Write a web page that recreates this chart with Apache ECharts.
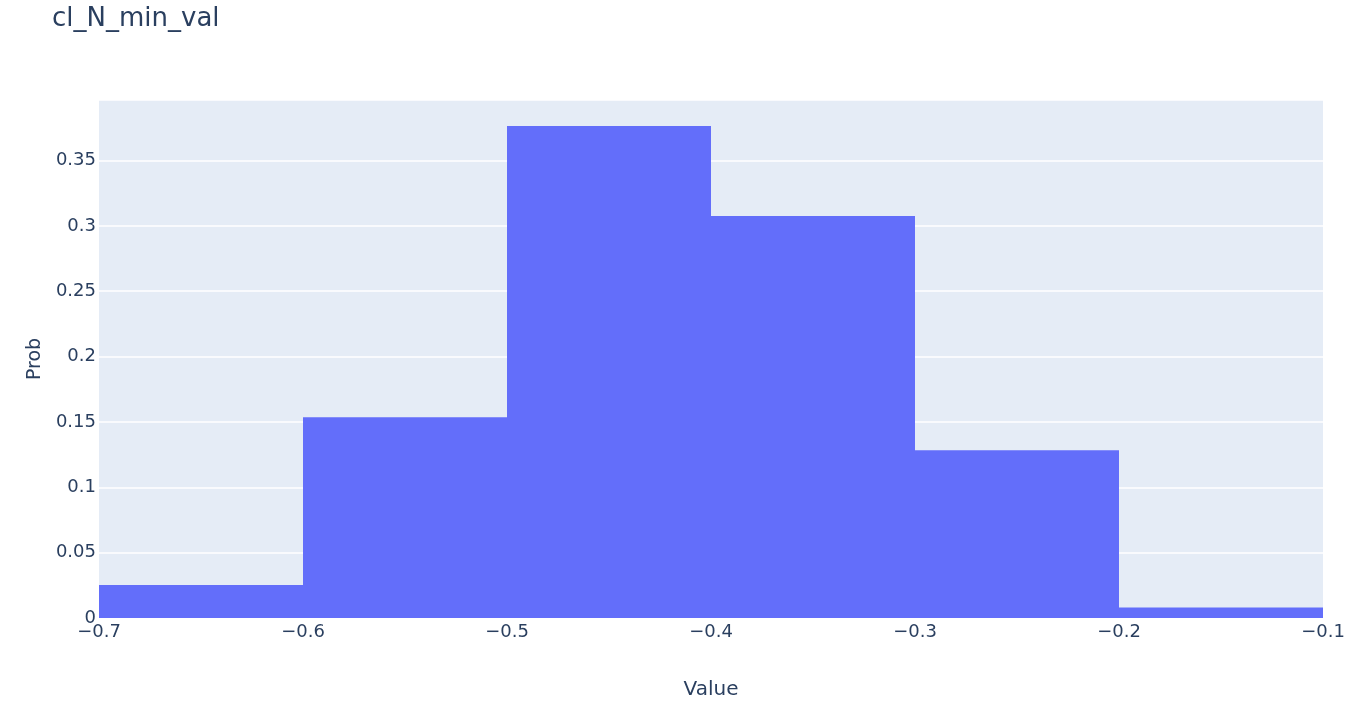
<!DOCTYPE html>
<html>
<head>
<meta charset="utf-8">
<script src="https://cdn.jsdelivr.net/npm/echarts@6/dist/echarts.min.js"></script>
<style>
html,body{margin:0;padding:0;background:#fff;}
#chart{width:1353px;height:701px;}
</style>
</head>
<body>
<div id="chart"></div>
<script>
const binStart = [-0.7, -0.6, -0.5, -0.4, -0.3, -0.2];
const binEnd   = [-0.6, -0.5, -0.4, -0.3, -0.2, -0.1];
const prob     = [0.0252, 0.1536, 0.3764, 0.3075, 0.1283, 0.0081];
const titleText = 'cl_N_min_val';
const xTitle = 'Value';
const yTitle = 'Prob';

const FONT = '"DejaVu Sans", verdana, arial, sans-serif';
const TXT = '#2a3f5f';
const fmtX = v => {
  const s = (Math.round(v * 10) / 10).toFixed(1);
  return s.replace('-', '\u2212');
};
const fmtY = v => {
  const r = Math.round(v * 1000) / 1000;
  if (Math.abs(Math.round(r / 0.05) * 0.05 - r) > 1e-6) return '';
  return String(parseFloat(r.toFixed(3)));
};

const data = binStart.map((s, i) => [s, binEnd[i], prob[i]]);

const chart = echarts.init(document.getElementById('chart'), null, {renderer: 'canvas'});
chart.setOption({
  animation: false,
  backgroundColor: '#fff',
  title: {
    text: titleText,
    left: 47, top: 1,
    textStyle: {fontFamily: FONT, fontSize: 26, fontWeight: 'normal', color: TXT}
  },
  grid: {
    left: 99, right: 30, top: 100, bottom: 83,
    outerBoundsMode: 'none', containLabel: false,
    show: true, backgroundColor: '#E5ECF6', borderWidth: 0
  },
  xAxis: {
    type: 'value', min: -0.7, max: -0.1, interval: 0.1,
    name: xTitle, nameLocation: 'middle', nameGap: 62,
    nameTextStyle: {fontFamily: FONT, fontSize: 20, color: TXT},
    axisLine: {show: false}, axisTick: {show: false},
    splitLine: {show: false},
    axisLabel: {formatter: fmtX, fontFamily: FONT, fontSize: 18, color: TXT, margin: 5}
  },
  yAxis: {
    type: 'value', min: 0, max: 0.3963, interval: 0.05,
    name: yTitle, nameLocation: 'middle', nameGap: 54,
    nameTextStyle: {fontFamily: FONT, fontSize: 19, color: TXT},
    axisLine: {show: false}, axisTick: {show: false},
    splitLine: {show: true, lineStyle: {color: '#ffffff', width: 1.5}},
    axisLabel: {formatter: fmtY, showMaxLabel: false, fontFamily: FONT, fontSize: 18, color: TXT, margin: 3}
  },
  series: [{
    type: 'custom',
    data: data,
    encode: {x: [0, 1], y: 2},
    renderItem: function (params, api) {
      const p0 = api.coord([api.value(0), api.value(2)]);
      const p1 = api.coord([api.value(1), 0]);
      return {
        type: 'rect',
        shape: {x: p0[0], y: p0[1], width: p1[0] - p0[0], height: p1[1] - p0[1]},
        style: {fill: '#636EFA'}
      };
    }
  }]
});
</script>
</body>
</html>
